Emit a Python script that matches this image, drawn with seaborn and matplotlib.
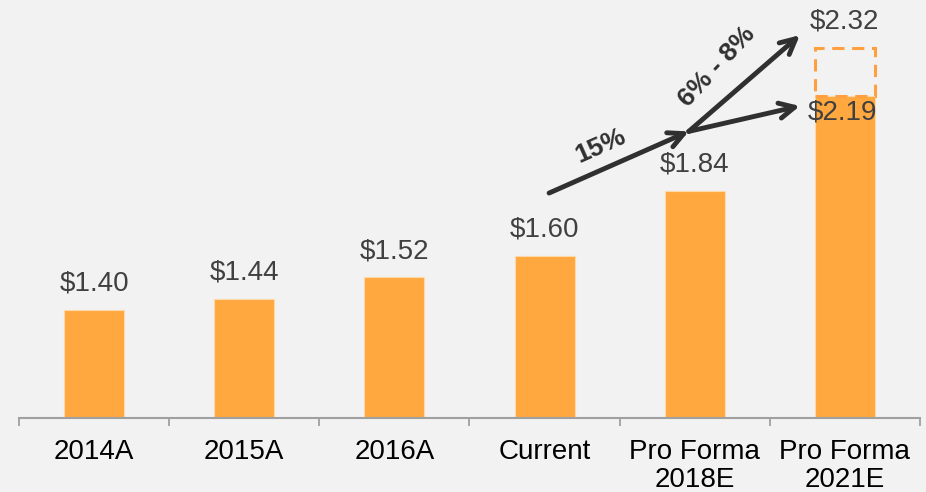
import matplotlib
matplotlib.use('Agg')
import matplotlib.pyplot as plt
import seaborn as sns
import pandas as pd
from matplotlib.patches import Rectangle

# data
periods = ['2014A', '2015A', '2016A', 'Current', 'Pro Forma\n2018E', 'Pro Forma\n2021E']
dividend = [1.40, 1.44, 1.52, 1.60, 1.84, 2.19]
upside_label = 2.32
upside_top = 2.37   # top edge of the dashed box as drawn
growth_near = '15%'
growth_far = '6% - 8%'

bar_color = '#FFA83F'
bg = '#F2F2F2'
ink = '#404040'
arrow_col = '#303030'

sns.set_style('white', {'axes.facecolor': bg, 'figure.facecolor': bg})
plt.rcParams['font.family'] = ['Liberation Sans', 'DejaVu Sans']

df = pd.DataFrame({'period': periods, 'dps': dividend})

fig = plt.figure(figsize=(9.26, 4.92), dpi=100)
ax = fig.add_axes([19 / 926, 74 / 492, 901 / 926, 418 / 492])

sns.barplot(data=df, x='period', y='dps', color=bar_color, width=0.4,
            saturation=1, edgecolor='#FFD9A8', linewidth=0.8, ax=ax)

ax.set_xlim(-0.5, len(periods) - 0.5)
ax.set_ylim(1.0, 2.546)

# dashed upside box on the last bar
last = len(dividend) - 1
ax.add_patch(Rectangle((last - 0.2, dividend[-1]), 0.4, upside_top - dividend[-1],
                       fill=False, ls=(0, (4, 2.5)), lw=2.2, edgecolor='#FFA040'))

# value labels
for i, v in enumerate(dividend):
    if i == last:
        ax.annotate(f'${v:.2f}', (i, v), xytext=(-2, -12), textcoords='offset points',
                    ha='center', va='center', fontsize=20, color=ink)
    else:
        ax.annotate(f'${v:.2f}', (i, v), xytext=(0, 19), textcoords='offset points',
                    ha='center', va='center', fontsize=20, color=ink)
ax.annotate(f'${upside_label:.2f}', (last, upside_top), xytext=(0, 19),
            textcoords='offset points', ha='center', va='center', fontsize=20, color=ink)

# growth arrows
aprops = dict(arrowstyle='->,head_length=1.1,head_width=0.55', color=arrow_col, lw=3.5,
              shrinkA=0, shrinkB=0)
junction = (3.96, 2.06)
ax.annotate('', xy=junction, xytext=(3.03, 1.832), arrowprops=aprops)
ax.annotate('', xy=(4.70, 2.416), xytext=junction, arrowprops=aprops)
ax.annotate('', xy=(4.70, 2.154), xytext=junction, arrowprops=aprops)
ax.text(3.37, 2.005, growth_near, rotation=24, ha='center', va='center',
        fontsize=19, fontweight='bold', color=arrow_col)
ax.text(4.15, 2.30, growth_far, rotation=47, ha='center', va='center',
        fontsize=19, fontweight='bold', color=arrow_col)

# axes styling
for s in ['left', 'right', 'top']:
    ax.spines[s].set_visible(False)
ax.spines['bottom'].set_color('#A0A0A0')
ax.spines['bottom'].set_linewidth(1.5)
ax.set_yticks([])
ax.set_xlabel('')
ax.set_ylabel('')
ax.set_xticks([i - 0.5 for i in range(len(periods) + 1)], minor=True)
ax.tick_params(axis='x', which='minor', bottom=True, length=6, width=1.3,
               color='#A0A0A0', direction='out')
ax.tick_params(axis='x', which='major', length=0, pad=15, labelsize=20, labelcolor='black')
for t in ax.get_xticklabels():
    t.set_linespacing(1.12)
    t.set_va('top')

fig.savefig('out.png', dpi=100, facecolor=bg)
